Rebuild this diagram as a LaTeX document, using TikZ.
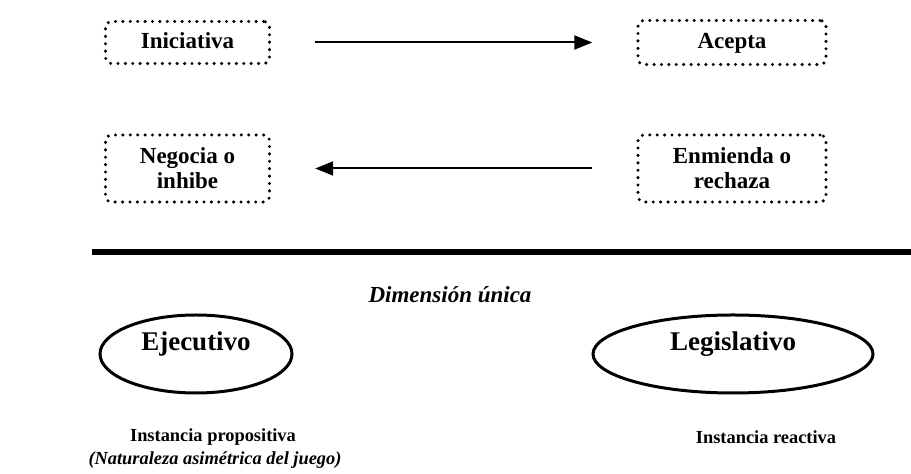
\documentclass[tikz,border=0pt]{standalone}
\usepackage{fontspec}
\setmainfont{Liberation Serif}
\usetikzlibrary{arrows.meta,shapes.geometric}

\tikzset{
  dotbox/.style={draw, rounded corners=3pt, line width=1.7pt, line cap=round,
    dash pattern=on 0pt off 3.7pt, align=center, font=\bfseries\fontsize{11.5}{12.5}\selectfont},
  unalinea/.style={text height=1.6ex, text depth=.3ex},
  poder/.style={draw, ellipse, line width=1.5pt},
  flecha/.style={line width=1pt, -{Triangle[length=9pt,width=7pt]},
    shorten <=22pt, shorten >=22pt},
  etiq/.style={font=\bfseries\fontsize{9.2}{10}\selectfont}
}

\begin{document}
\begin{tikzpicture}[x=0.5pt,y=-0.5pt]
\useasboundingbox (0,0) rectangle (911,474);
% cajas de arriba
\node[dotbox, unalinea, minimum width=82pt, minimum height=21pt] (ini) at (187.5,42.5) {Iniciativa};
\node[dotbox, unalinea, minimum width=94pt, minimum height=22pt] (acp) at (732,42.5) {Acepta};
\node[dotbox, minimum width=82pt, minimum height=33.5pt] (neg) at (187.5,168.5) {Negocia o\\inhibe};
\node[dotbox, minimum width=94pt, minimum height=33.5pt] (enm) at (732,168.5) {Enmienda o\\rechaza};
\draw[flecha] (ini) -- (acp);
\draw[flecha] (enm) -- (neg);
% linea gruesa
\draw[line width=2.8pt] (92,252) -- (911,252);
\node[font=\bfseries\itshape\fontsize{11.5}{12.5}\selectfont] (dim) at (450,295) {Dimensión única};
% poderes
\node[poder, minimum width=96pt, minimum height=39pt] (eje) at (196,354) {};
\node[font=\bfseries\fontsize{13.5}{16}\selectfont] (ejet) at (196,344) {Ejecutivo};
\node[poder, minimum width=140pt, minimum height=39pt] (leg) at (733,354) {};
\node[font=\bfseries\fontsize{13.5}{16}\selectfont] (legt) at (733,344) {Legislativo};
\node[etiq] (insp) at (213,437) {Instancia propositiva};
\node[etiq, font=\bfseries\itshape\fontsize{9.2}{10}\selectfont] (nat) at (215,460) {(Naturaleza asimétrica del juego)};
\node[etiq] (insr) at (766,437) {Instancia reactiva};
\end{tikzpicture}
\end{document}
